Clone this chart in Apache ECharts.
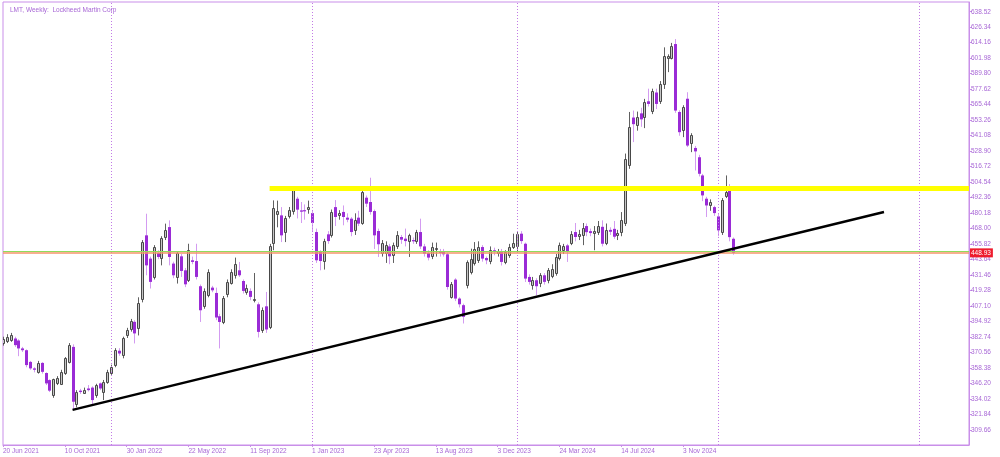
<!DOCTYPE html>
<html><head><meta charset="utf-8">
<script src="https://cdn.jsdelivr.net/npm/echarts@6/dist/echarts.min.js"></script>
<style>html,body{margin:0;padding:0;background:#fff}#c{width:1000px;height:457px}</style>
</head><body><div id="c"></div>
<script>
// ---- data ----
const titleText = 'LMT, Weekly:  Lockheed Martin Corp';
const firstWeek = [2021, 5, 20];   // 20 Jun 2021
const totalSlots = 251;            // weekly slots shown on the x axis (incl. empty future)
const opens = [
378,380,380,381.6,380,373.8,372.4,363.2,358.1,355.4,
362.4,354.5,348.9,336.5,346.3,346.3,354.1,363.2,375,330.6,
340.6,339.5,342.3,343,337.1,346.3,339.7,347.6,354.6,360.7,
372,368.5,384,389,394.7,389.7,412.5,462.7,444.4,430,
448.8,445.2,460.9,469.2,440.5,430,446.2,435.2,427.4,443.1,
442.5,422.7,407,415.6,421.6,417.4,399.1,394.6,416.9,425.3,
432.1,435.2,426.8,418.2,419,411.7,408.5,388.7,406.9,390.2,
456.7,479.7,478.4,465.3,478.4,481.1,491.5,482.3,482.5,483.3,
480.2,465.3,449.6,442.5,463.5,462.7,484.9,478.4,481.1,476.6,
475.8,466.6,476.6,472.4,492.3,488.9,481.8,466.1,448.8,448.3,
454,447,454,461.4,460.1,458.2,459,458.2,465.3,454,
448.8,446.2,451.5,450.3,450.3,447.8,414.3,427.9,413,407.8,
423.4,433.9,441,443.1,453.5,444.9,443.1,451,448.5,450.3,
441.8,447,453.5,454.8,464,456.1,430,423.4,427.4,424.8,
431.3,427.4,431.3,433.1,444.4,451,454.8,456.1,465.3,461.6,
463.5,470,466,464.5,465.2,469.4,456.7,467,467.8,462.7,
465.3,472.4,517.8,555.3,550,558.6,555.3,568.1,560.8,575,
568.6,582.2,602.7,602.7,613.1,559.7,545.6,570.1,534.7,531.4,
524.1,509.8,491.5,486.2,484.9,477.6,465.3,493.3,501.1,460];
const highs = [
383,385,386,383,381,375,373,364,359,364,
363,355,349.5,350,352,357,367,378,377,341,
342,343,345,344,346,347,349,357,361,374,
374,383,390,397,396,414,459,479.7,446,455,
451,462,471.9,474.5,442,450,448,437,456.1,446,
456.1,424,421,436,423,421.6,401,415,428,436,
445.2,441.8,428,424,421,433.1,410,406,418.2,456,
490.2,490,484.9,478,485,499,493,488.9,487,490,
482,468,451,460,466,483,490.4,482.5,486.2,480,
477,480,482,498,494,508,483,468,459,458,
456,457,466,463,468,464,461,467,475.8,456,
451,457,457,452,452,449,426,429,414,409,
443,452.2,457.4,458,455,446,454,453,452,452,
451,456,464,466,466,457,432,430,429,433,
433,437,440,448,457,456,456,466,472.4,467,
472.4,472,468,470,474,474.5,472,469,474,467,
481,527,559.7,560.8,560,563,570,578,578,578,
584,610.5,605,614,617,561,565,575.2,543,533,
526,511,493,491,486,480,492,509.8,503,461];
const lows = [
376,378,379,375,367.7,371,359,357,355,354,
354,345,339.5,335,345,345,353,362,325.3,327.5,
338,338,340,330,335,341,333.2,346,353,359,
368,366,382,387,377.7,384,410,431.3,420.9,428,
444,439.1,459,439.1,429,424.8,430,422,426,440,
428,394.6,405,414,418,396,373.8,392.9,414,424,
428.7,430,417,416,411.7,410,382.4,386,386,389,
451,469,457.4,457.4,476,479,476,472.4,475,479.7,
465.3,441,435.2,435.8,456,461,470,475,470.6,473,
462,463,470,471,485,479,452,445.7,446,441,
440,441,452,456,454,445.7,456,456,452,446,
443,444,446,446,446,420,413,411,406,393.4,
421,432,439,441,442,440,440,447,446,439,
440,445,452,449,456,426,424,420,415.6,422,
424,425,429,431,443,448,441.8,455,458,459,
455,462,462,451,463,454,455,463,460,459,
462,470,515,536,545,548,547,564,558,562,
566,577.8,591,601,559,541,539.9,532.1,528.1,513.7,
509,489.6,477.1,482,478,462,463,492,458,447.5];
const closes = [
381,383,384.2,376.4,373.8,372.4,360.7,358.1,357,362.4,
355.4,346.3,340.6,349.4,350.2,355.4,365.9,376.4,331.9,339.7,
339.5,341.5,341,333.2,344.9,342.3,347.6,355.4,359.4,372.4,
369.8,381.6,388,395,385.6,409.3,457.4,439.1,426.1,453.5,
445.7,460.9,466.6,445.7,431.3,448.8,434.7,424.2,451.3,441.8,
430,403.8,419,433.9,419.5,398.1,394.6,413.8,426.1,433.9,
440.5,431.3,419,421.6,414.3,412.7,386.8,404.3,388.7,454,
484.4,481.8,462.7,476.6,482.9,498,482.9,481.3,481.8,485,
472.4,443.1,442.5,458.4,458.2,481.1,477.1,480.2,477.1,475,
465.3,474.5,471.9,496.7,487.6,481.1,462.7,455.7,456.7,454.8,
446.2,454.8,462.7,459.3,458.2,462.7,458,465.2,454,448.3,
445.2,453.5,452.5,448.8,447.8,422.1,424.2,413,408.5,398.6,
441.8,444.4,452.2,453.5,444.4,443.1,451.5,449.6,450,441.8,
449.6,453.5,456.7,464,458.2,428.7,426.1,427.4,422.7,431.3,
426.1,435.2,436.5,445.7,454.8,454,449.6,463.5,461.4,463.5,
468.8,465.2,464.5,466,470,456.1,466.6,465.5,461.6,464.5,
474.5,523,547.7,550.1,556,553.9,567.3,566,576.5,566,
581.7,604,604,611.8,560.8,543.8,563.6,533.3,541.2,528.7,
511.1,494.1,486.2,488.9,480.2,466.6,490.7,496.7,461.3,448.93];
const yTickLabels = [309.66,321.84,334.02,346.20,358.38,370.56,382.74,394.92,407.10,419.28,431.46,443.64,455.82,468.00,480.18,492.36,504.54,516.72,528.90,541.08,553.26,565.44,577.62,589.80,601.98,614.16,626.34,638.52];
const yRange = [297.87, 646.15];
const resistanceLevel = 499.4;
const resistanceFrom = 69;
const trendFrom = [18, 325.5];
const trendTo = [228, 481.0];
const askPrice = 450.4;
const labelEvery = 16;

// ---- build ----
const months = ['Jan','Feb','Mar','Apr','May','Jun','Jul','Aug','Sep','Oct','Nov','Dec'];
const categories = [], years = [];
const t0 = Date.UTC(firstWeek[0], firstWeek[1], firstWeek[2]);
for (let i = 0; i < totalSlots; i++) {
  const t = new Date(t0 + i * 7 * 86400000);
  categories.push(t.getUTCDate() + ' ' + months[t.getUTCMonth()] + ' ' + t.getUTCFullYear());
  years.push(t.getUTCFullYear());
}
const yearStarts = [];
for (let i = 1; i < totalSlots; i++) if (years[i] !== years[i-1]) yearStarts.push(i);
const nBars = closes.length;
const bidPrice = closes[nBars - 1];
const candleData = opens.map((o, i) => [i, o, closes[i], lows[i], highs[i]]);

const FONT = 'Liberation Sans';
const LINE = '#c98fe9';
const TXT = '#a868d6';
const showIdx = (idx) => idx % labelEvery === 0 && idx < nBars;

const chart = echarts.init(document.getElementById('c'), null, {renderer: 'canvas'});
chart.setOption({
  animation: false,
  backgroundColor: '#ffffff',
  title: {text: titleText, left: 5, top: 2, textStyle: {fontSize: 6.5, color: TXT, fontWeight: 'normal', fontFamily: FONT}},
  grid: {left: 2, right: 31, top: 2, bottom: 12, show: true, borderColor: LINE, borderWidth: 1, backgroundColor: 'transparent'},
  xAxis: {
    type: 'category', data: categories, boundaryGap: false,
    axisLine: {show: true, lineStyle: {color: LINE, width: 1}},
    axisTick: {show: true, interval: (idx) => showIdx(idx), length: 2, lineStyle: {color: LINE}},
    axisLabel: {interval: (idx) => showIdx(idx), align: 'left', margin: 3, fontSize: 6.5, color: TXT, fontFamily: FONT},
    splitLine: {show: false}
  },
  yAxis: {
    type: 'value', position: 'right', min: yRange[0], max: yRange[1], scale: true,
    axisLine: {show: true, lineStyle: {color: LINE, width: 1}},
    axisTick: {show: true, length: 3, customValues: yTickLabels, lineStyle: {color: LINE}},
    axisLabel: {customValues: yTickLabels, margin: 2, fontSize: 6.5, color: TXT, fontFamily: FONT,
      formatter: (v) => Number(v).toFixed(2)},
    splitLine: {show: false}
  },
  series: [
    {
      type: 'line', data: [], z: 1, silent: true,
      markLine: {
        silent: true, symbol: ['none', 'none'], label: {show: false},
        lineStyle: {type: [1, 2], color: '#c27ae6', width: 1},
        data: yearStarts.map(i => ({xAxis: i}))
      }
    },
    {
      type: 'custom', z: 2, data: candleData, clip: true,
      encode: {x: 0, y: [1, 2, 3, 4]},
      renderItem: function (params, api) {
        const i = api.value(0), o = api.value(1), c = api.value(2), l = api.value(3), h = api.value(4);
        const pO = api.coord([i, o]), pC = api.coord([i, c]), pL = api.coord([i, l]), pH = api.coord([i, h]);
        const x = Math.round(pO[0]) + 0.5;
        const top = Math.min(pO[1], pC[1]), bot = Math.max(pO[1], pC[1]);
        const bull = c >= o;
        const children = [];
        if (bull) {
          children.push({type: 'line', shape: {x1: x, y1: pH[1], x2: x, y2: pL[1]}, style: {stroke: '#606060', lineWidth: 1}});
          children.push({type: 'rect', shape: {x: x - 1, y: Math.round(top) + 0.5, width: 2, height: Math.max(Math.round(bot - top), 1)},
            style: {fill: '#c6c6c6', stroke: '#484848', lineWidth: 1}});
        } else {
          children.push({type: 'line', shape: {x1: x, y1: pH[1], x2: x, y2: pL[1]}, style: {stroke: '#d39bf1', lineWidth: 1}});
          children.push({type: 'rect', shape: {x: x - 1.5, y: top, width: 3, height: Math.max(bot - top, 1.2)},
            style: {fill: '#9a2bd6', stroke: null}});
        }
        return {type: 'group', children: children};
      }
    },
    {
      type: 'line', data: [], z: 3, silent: true, color: '#8fdc5c',
      markLine: {
        silent: true, symbol: ['none', 'none'], label: {show: false},
        lineStyle: {color: '#8fdc5c', width: 1, type: 'solid', opacity: 1},
        data: [{yAxis: askPrice}]
      }
    },
    {
      type: 'line', data: [], z: 4, silent: true, color: '#f5946a',
      markLine: {
        silent: true, symbol: ['none', 'none'],
        lineStyle: {color: '#f5946a', width: 1.5, type: 'solid', opacity: 1},
        label: {show: true, position: 'end', distance: 1, formatter: () => bidPrice.toFixed(2),
          backgroundColor: '#ee1c2e', color: '#ffffff', fontSize: 6.5, fontFamily: FONT, padding: [1, 2, 1, 1]},
        data: [{yAxis: bidPrice}]
      }
    },
    {
      type: 'line', data: [], z: 5, silent: true,
      markLine: {
        silent: true, symbol: ['none', 'none'], label: {show: false},
        data: [
          [{coord: [resistanceFrom, resistanceLevel], lineStyle: {color: '#ffff00', width: 5, type: 'solid'}},
           {coord: [totalSlots - 1, resistanceLevel]}],
          [{coord: trendFrom, lineStyle: {color: '#000000', width: 2.5, type: 'solid'}},
           {coord: trendTo}]
        ]
      }
    }
  ]
});
</script></body></html>
